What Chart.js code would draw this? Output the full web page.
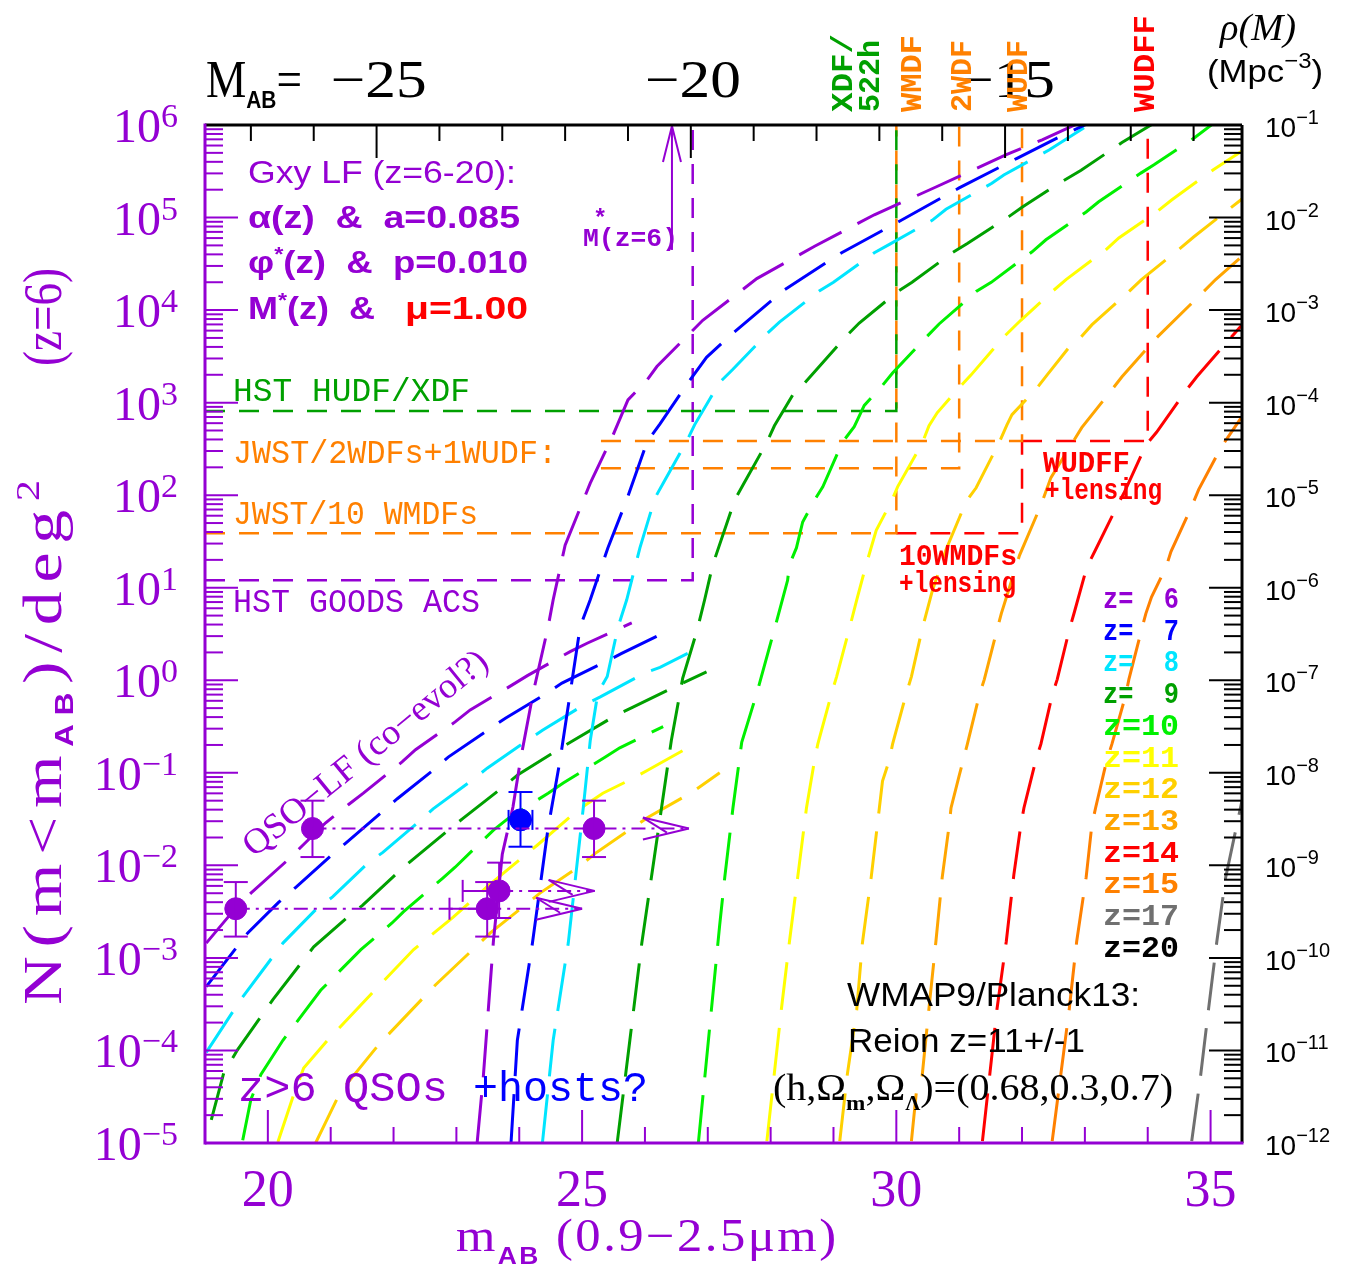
<!DOCTYPE html>
<html>
<head>
<meta charset="utf-8">
<title>Galaxy and QSO counts z=6-20</title>
<script src="https://cdn.jsdelivr.net/npm/chart.js@4.4.1/dist/chart.umd.min.js"></script>
<style>
  html, body { margin: 0; padding: 0; background: #fff; }
</style>
</head>
<body>
<canvas id="lf" width="1353" height="1272"></canvas>
<script>
// ---- galaxy LF curves, [m_AB, log10 N(<m) per deg^2] ----
const gxy6 = [[23.33,-5.0],[23.43,-4.27],[23.59,-2.81],[23.73,-1.88],[23.90,-1.37],[24.02,-0.86],[24.22,-0.14],[24.46,0.58],[24.54,0.87],[24.73,1.46],[25.13,2.13],[25.48,2.63],[25.73,3.03],[26.03,3.24],[26.19,3.39],[26.92,3.89],[27.78,4.34],[28.70,4.69],[29.65,5.03],[30.63,5.33],[31.75,5.68],[32.32,5.84],[32.90,6.02]];
const gxy7 = [[23.87,-4.99],[23.97,-3.89],[24.21,-2.84],[24.46,-1.59],[24.65,-0.86],[24.81,-0.14],[24.97,0.58],[25.13,0.87],[25.41,1.43],[25.71,1.95],[26.0,2.51],[26.08,2.62],[26.24,2.77],[26.68,3.21],[26.98,3.49],[27.40,3.75],[28.22,4.22],[29.13,4.62],[30.05,4.96],[31.0,5.32],[31.92,5.64],[32.59,5.87],[33.06,6.02]];
const gxy8 = [[24.37,-4.99],[24.54,-3.89],[24.78,-2.84],[25.02,-1.37],[25.13,-0.65],[25.25,-0.14],[25.40,0.04],[25.57,0.57],[25.71,0.87],[25.92,1.43],[26.16,1.97],[26.29,2.13],[26.67,2.59],[26.79,2.76],[27.19,3.22],[27.40,3.36],[27.95,3.75],[28.14,3.87],[28.78,4.21],[29.0,4.30],[29.65,4.62],[29.89,4.71],[30.57,4.97],[30.79,5.09],[31.52,5.37],[31.71,5.46],[32.43,5.73],[33.10,6.02]];
const gxy9 = [[25.56,-4.99],[25.76,-3.89],[25.95,-2.84],[26.15,-1.91],[26.42,-0.65],[26.60,0.02],[26.83,0.54],[26.95,0.87],[27.08,1.25],[27.43,1.95],[27.56,2.11],[27.94,2.57],[28.06,2.75],[28.35,3.08],[28.51,3.19],[29.22,3.73],[29.41,3.86],[30.02,4.20],[30.25,4.30],[30.89,4.62],[31.13,4.72],[31.79,5.01],[32.0,5.11],[32.59,5.37],[32.94,5.51],[33.59,5.81],[34.10,6.02]];
const gxy10 = [[26.85,-5.0],[27.19,-2.64],[27.27,-2.13],[27.40,-1.38],[27.54,-0.67],[27.78,-0.14],[28.06,0.55],[28.27,1.08],[28.30,1.25],[28.41,1.43],[28.51,1.71],[28.70,1.95],[28.83,2.09],[29.14,2.57],[29.33,2.74],[29.49,2.97],[29.76,3.17],[29.94,3.32],[30.48,3.71],[30.68,3.85],[31.27,4.20],[31.51,4.30],[32.16,4.63],[32.38,4.76],[33.02,5.06],[33.22,5.17],[33.89,5.48],[34.10,5.57],[34.76,5.87],[35.05,6.02]];
const gxy11 = [[27.94,-4.98],[28.06,-4.24],[28.17,-3.56],[28.30,-2.82],[28.43,-2.13],[28.57,-1.38],[28.70,-0.86],[28.75,-0.69],[28.97,-0.14],[29.05,0.04],[29.25,0.55],[29.37,0.87],[29.52,1.25],[29.68,1.62],[29.92,1.93],[30.02,2.09],[30.41,2.56],[30.52,2.75],[30.65,2.89],[30.97,3.14],[31.19,3.30],[31.71,3.71],[31.98,3.89],[32.48,4.20],[32.70,4.33],[33.33,4.65],[33.54,4.78],[34.14,5.06],[34.38,5.19],[35.05,5.52],[35.5,5.72]];
const gxy12 = [[29.10,-4.98],[29.22,-4.26],[29.37,-3.56],[29.46,-2.84],[29.60,-2.13],[29.73,-1.38],[29.78,-1.09],[29.89,-0.86],[29.94,-0.69],[30.16,-0.14],[30.24,0.04],[30.41,0.55],[30.57,0.96],[30.79,1.41],[31.11,1.93],[31.27,2.08],[31.63,2.56],[31.76,2.76],[31.84,2.87],[32.24,3.16],[32.40,3.30],[32.75,3.60],[32.94,3.71],[33.11,3.84],[33.70,4.20],[33.90,4.33],[34.52,4.67],[34.73,4.79],[35.33,5.11],[35.5,5.2]];
const gxy13 = [[30.24,-4.98],[30.32,-4.44],[30.41,-4.28],[30.52,-3.54],[30.63,-2.82],[30.73,-2.13],[30.84,-1.57],[30.87,-1.38],[31.0,-1.03],[31.13,-0.69],[31.32,-0.16],[31.40,0.01],[31.60,0.54],[31.67,0.72],[31.96,1.35],[32.30,1.89],[32.46,2.19],[32.95,2.73],[33.43,3.14],[33.59,3.28],[33.97,3.57],[34.14,3.70],[34.89,4.20],[35.08,4.33],[35.5,4.58]];
const gxy14 = [[31.37,-4.98],[31.60,-3.56],[31.75,-2.82],[31.87,-2.10],[31.98,-1.57],[32.03,-1.38],[32.22,-0.86],[32.30,-0.69],[32.48,-0.16],[32.56,0.01],[32.75,0.54],[32.83,0.73],[33.03,1.22],[33.17,1.41],[33.54,1.92],[33.62,2.02],[33.97,2.54],[34.14,2.68],[34.62,3.14],[34.78,3.28],[35.32,3.70],[35.5,3.84]];
const gxy15 = [[32.48,-4.98],[32.75,-3.56],[32.87,-2.82],[33.02,-2.13],[33.11,-1.57],[33.17,-1.38],[33.35,-0.86],[33.43,-0.69],[33.65,-0.16],[33.70,0.01],[33.90,0.54],[33.97,0.72],[34.06,0.90],[34.29,1.22],[34.37,1.39],[34.70,1.88],[34.81,2.06],[35.17,2.52],[35.5,2.85]];
const gxy17 = [[34.70,-4.98],[34.84,-4.28],[34.97,-3.54],[35.10,-2.82],[35.24,-2.13],[35.5,-1.3]];

// ---- QSO LF curves (co-evolution guess) ----
const qso6 = [[19.02,-2.84],[19.44,-2.50],[19.73,-2.30],[20.32,-1.94],[20.92,-1.54],[21.29,-1.34],[21.52,-1.22],[22.14,-0.88],[22.35,-0.75],[22.98,-0.45],[23.22,-0.32],[23.89,-0.05],[24.13,0.05],[24.81,0.31],[25.08,0.40],[25.79,0.62]];
const qso7 = [[19.02,-3.31],[19.68,-2.73],[20.17,-2.40],[20.44,-2.24],[21.03,-1.88],[21.24,-1.76],[21.84,-1.41],[22.06,-1.28],[22.67,-0.95],[22.87,-0.83],[23.54,-0.52],[23.78,-0.41],[24.44,-0.14],[24.68,-0.03],[25.40,0.21],[25.63,0.29],[26.29,0.51]];
const qso8 = [[19.02,-4.02],[19.57,-3.45],[20.24,-2.84],[20.76,-2.48],[21.03,-2.34],[21.60,-1.97],[21.83,-1.86],[22.40,-1.53],[22.63,-1.39],[23.25,-1.08],[23.49,-0.95],[24.13,-0.65],[24.37,-0.54],[25.02,-0.27],[25.29,-0.18],[26.0,0.08],[26.24,0.14],[26.68,0.29]];
const qso9 = [[19.10,-4.75],[19.30,-4.24],[19.52,-3.99],[20.08,-3.45],[20.73,-2.88],[21.27,-2.56],[21.51,-2.43],[22.08,-2.07],[22.30,-1.94],[22.87,-1.62],[23.11,-1.49],[23.75,-1.15],[23.98,-1.02],[24.62,-0.75],[24.86,-0.65],[25.56,-0.37],[25.81,-0.29],[26.51,-0.06],[26.98,0.09]];
const qso10 = [[19.60,-4.97],[19.73,-4.53],[19.89,-4.26],[20.24,-3.89],[20.84,-3.35],[21.48,-2.91],[21.98,-2.62],[22.16,-2.50],[22.78,-2.14],[22.98,-2.02],[23.59,-1.62],[23.83,-1.49],[24.46,-1.22],[24.70,-1.11],[25.37,-0.83],[25.60,-0.73],[26.29,-0.50]];
const qso11 = [[20.16,-4.99],[20.40,-4.50],[20.57,-4.19],[20.95,-3.89],[21.63,-3.40],[22.32,-2.91],[22.95,-2.56],[23.49,-2.23],[24.06,-1.91],[24.29,-1.78],[24.94,-1.40],[25.33,-1.22],[25.81,-1.06],[26.05,-0.97],[26.76,-0.70]];
const qso12 = [[20.76,-5.0],[21.11,-4.51],[21.27,-4.35],[21.76,-3.94],[22.67,-3.29],[23.54,-2.73],[24.13,-2.41],[24.33,-2.30],[24.94,-2.02],[25.21,-1.87],[25.81,-1.59],[26.05,-1.48],[26.75,-1.21],[27.19,-1.0]];

const gxyZ = [6, 7, 8, 9, 10, 11, 12, 13, 14, 15, 17];
const gxyCurves = [gxy6, gxy7, gxy8, gxy9, gxy10, gxy11, gxy12, gxy13, gxy14, gxy15, gxy17];
const qsoZ = [6, 7, 8, 9, 10, 11, 12];
const qsoCurves = [qso6, qso7, qso8, qso9, qso10, qso11, qso12];

// legend
const legendZ = [6, 7, 8, 9, 10, 11, 12, 13, 14, 15, 17, 20];
const zColors = {6: '#9400D3', 7: '#0000FF', 8: '#00E5FF', 9: '#00A000', 10: '#00F000', 11: '#FFFF00',
                 12: '#FFD000', 13: '#FFA500', 14: '#FF0000', 15: '#FF8000', 17: '#707070', 20: '#000000'};

// ---- survey depth limits, [m_AB, log10 N] ----
const hudfPath  = [[19.0, 2.91], [30.0, 2.91], [30.0, 6.0]];
const goodsPath = [[19.0, 1.08], [26.76, 1.08], [26.76, 6.0]];
const wmdfPath  = [[19.0, 1.59], [30.0, 1.59], [30.0, 6.0]];
const wdf2Path  = [[25.3, 2.29], [31.0, 2.29], [31.0, 6.0]];
const wudfPath  = [[25.3, 2.585], [32.0, 2.585], [32.0, 6.0]];
const wmdfLens  = [[30.0, 1.59], [32.0, 1.59], [32.0, 2.585]];
const wudffLens = [[32.0, 2.585], [34.0, 2.585], [34.0, 6.0]];
const mStar6 = 26.43;            // M*(z=6) in m_AB
const mStarArrowFrom = 4.65;     // log10 N at arrow tail

// ---- z>6 QSO points ----
const qsoMag    = [19.49, 20.71, 25.19, 23.49, 23.68];
const qsoDens   = [0.0034, 0.025, 0.025, 0.0034, 0.0053];
const qsoDensHi = [0.0066, 0.050, 0.050, 0.0066, 0.0107];
const qsoDensLo = [0.0017, 0.0123, 0.0123, 0.0017, 0.0027];
const qsoMagLo  = [null, null, null, 22.89, 23.10];
const qsoLinkTo = [23.49, 26.70, null, 25.00, 25.20];
const qsoArrow  = [false, true, false, true, true];
const hostMag = [24.02], hostDens = [0.031];
const hostDensLo = [0.0159], hostDensHi = [0.062];
const hostMagLo = [23.83], hostMagHi = [24.21];

// axis tick values
const topLabels = [-25, -20, -15];
const bottomLabels = [20, 25, 30, 35];

const PURPLE = '#9400D3', ORANGE = '#FF8000', GREEN = '#00A000', RED = '#FF0000';
const SERIF = '"Liberation Serif", "DejaVu Serif", serif';
const SANS = '"Liberation Sans", Arial, sans-serif';
const MONO = '"Liberation Mono", "DejaVu Sans Mono", monospace';

function toPts(arr) { return arr.map(p => ({x: p[0], y: Math.pow(10, p[1])})); }

const datasets = [];
datasets.push({data: qsoMag.map((m, i) => ({x: m, y: qsoDens[i]})), pointRadius: 11, pointBackgroundColor: PURPLE,
               pointBorderColor: PURPLE, showLine: false});
datasets.push({data: hostMag.map((m, i) => ({x: m, y: hostDens[i]})), pointRadius: 11, pointBackgroundColor: '#0000FF',
               pointBorderColor: '#0000FF', showLine: false});
gxyCurves.forEach((c, i) => datasets.push({
  data: toPts(c), borderColor: zColors[gxyZ[i]], borderWidth: 3, borderDash: [48, 18],
  showLine: true, pointRadius: 0, tension: 0, fill: false
}));
qsoCurves.forEach((c, i) => datasets.push({
  data: toPts(c), borderColor: zColors[qsoZ[i]], borderWidth: 3, borderDash: [48, 18],
  showLine: true, pointRadius: 0, tension: 0, fill: false
}));
[[hudfPath, GREEN], [goodsPath, PURPLE], [wmdfPath, ORANGE], [wdf2Path, ORANGE], [wudfPath, ORANGE],
 [wmdfLens, RED], [wudffLens, RED]].forEach(s => datasets.push({
  data: toPts(s[0]), borderColor: s[1], borderWidth: 2.5, borderDash: [20, 14],
  showLine: true, pointRadius: 0, tension: 0, fill: false
}));

// text with sub/superscripts; segs: {t, f, c, dy}
// o.fit reaches a width by stretching; with o.spread half of it comes from letter spacing
function rich(ctx, segs, x, y, o) {
  o = o || {};
  ctx.save();
  ctx.translate(x, y);
  if (o.rot) ctx.rotate(o.rot);
  let w = 0, nch = 0;
  segs.forEach(s => { ctx.font = s.f; s.w = ctx.measureText(s.t).width; w += s.w; nch += s.t.length; });
  let k = 1, gap = 0;
  if (o.fit && o.spread) {
    k = Math.sqrt(o.fit / w);
    gap = (o.fit / k - w) / Math.max(1, nch - 1);
  } else if (o.fit) k = o.fit / w;
  const total = o.fit || w;
  ctx.scale(k, 1);
  let cx = o.align === 'center' ? -total / 2 / k : (o.align === 'right' ? -total / k : 0);
  ctx.textAlign = 'left';
  ctx.textBaseline = o.base || 'alphabetic';
  segs.forEach(s => {
    ctx.font = s.f;
    ctx.fillStyle = s.c || o.c || '#000';
    if (gap) {
      for (const ch of s.t) {
        ctx.fillText(ch, cx, s.dy || 0);
        cx += ctx.measureText(ch).width + gap;
      }
    } else {
      ctx.fillText(s.t, cx, s.dy || 0);
      cx += s.w;
    }
  });
  ctx.restore();
}

function seg(ctx, x1, y1, x2, y2) { ctx.beginPath(); ctx.moveTo(x1, y1); ctx.lineTo(x2, y2); ctx.stroke(); }
function expo(e) { return e < 0 ? '\u2212' + (-e) : String(e); }

const decor = {
  id: 'decor',
  afterDatasetsDraw(chart) {
    const ctx = chart.ctx, sx = chart.scales.x, sy = chart.scales.y;
    ctx.save();
    ctx.lineWidth = 2;
    // QSO limits and error bars
    ctx.strokeStyle = PURPLE;
    qsoMag.forEach((m, i) => {
      const x = sx.getPixelForValue(m), y = sy.getPixelForValue(qsoDens[i]);
      ctx.setLineDash([]);
      const yh = sy.getPixelForValue(qsoDensHi[i]), yl = sy.getPixelForValue(qsoDensLo[i]);
      seg(ctx, x, yh, x, yl); seg(ctx, x - 12, yh, x + 12, yh); seg(ctx, x - 12, yl, x + 12, yl);
      if (qsoMagLo[i] !== null) {
        const xl = sx.getPixelForValue(qsoMagLo[i]);
        seg(ctx, xl, y, x, y); seg(ctx, xl, y - 11, xl, y + 11);
      }
      if (qsoLinkTo[i] !== null) {
        const xe = sx.getPixelForValue(qsoLinkTo[i]);
        ctx.setLineDash([14, 6, 3, 6]);
        seg(ctx, x, y, xe, y);
        ctx.setLineDash([]);
        if (qsoArrow[i]) {
          seg(ctx, xe - 46, y - 11, xe, y); seg(ctx, xe - 46, y + 11, xe, y);
          seg(ctx, xe - 46, y - 11, xe - 22, y + 4);
        }
      }
    });
    ctx.setLineDash([]);
    ctx.strokeStyle = '#0000FF';
    hostMag.forEach((m, i) => {
      const x = sx.getPixelForValue(m), y = sy.getPixelForValue(hostDens[i]);
      const yh = sy.getPixelForValue(hostDensHi[i]), yl = sy.getPixelForValue(hostDensLo[i]);
      const xl = sx.getPixelForValue(hostMagLo[i]), xh = sx.getPixelForValue(hostMagHi[i]);
      seg(ctx, x, yh, x, yl); seg(ctx, x - 12, yh, x + 12, yh); seg(ctx, x - 12, yl, x + 12, yl);
      seg(ctx, xl, y, xh, y); seg(ctx, xl, y - 10, xl, y + 10); seg(ctx, xh, y - 10, xh, y + 10);
    });
    // M*(z=6) arrow
    ctx.strokeStyle = PURPLE;
    const xa = sx.getPixelForValue(mStar6), ya = sy.getPixelForValue(Math.pow(10, mStarArrowFrom));
    const yt = chart.chartArea.top + 1;
    seg(ctx, xa, ya, xa, yt); seg(ctx, xa - 9, yt + 36, xa, yt); seg(ctx, xa + 9, yt + 36, xa, yt);
    ctx.restore();
  },
  afterDraw(chart) {
    const ctx = chart.ctx, a = chart.chartArea;
    const sx = chart.scales.x, sy = chart.scales.y, sm = chart.scales.xM, sr = chart.scales.yRho;
    ctx.save();
    ctx.lineCap = 'butt';
    // tick marks
    ctx.lineWidth = 2;
    ctx.strokeStyle = PURPLE;
    for (let e = -5; e <= 6; e++) for (let k = 1; k <= 9; k++) {
      const v = k * Math.pow(10, e);
      if (v > 1e6 * 1.0001) continue;
      const y = sy.getPixelForValue(v);
      seg(ctx, a.left, y, a.left + (k === 1 ? 33 : 18), y);
    }
    for (let m = 19; m <= 35; m++) {
      const x = sx.getPixelForValue(m);
      seg(ctx, x, a.bottom, x, a.bottom - (m % 5 === 0 ? 33 : 16));
    }
    ctx.strokeStyle = '#000';
    for (let e = -12; e <= -1; e++) for (let k = 1; k <= 9; k++) {
      const v = k * Math.pow(10, e);
      if (v > 0.10001) continue;
      const y = sr.getPixelForValue(v);
      seg(ctx, a.right, y, a.right - (k === 1 ? 33 : 18), y);
    }
    for (let M = -27; M <= -12; M++) {
      const x = sm.getPixelForValue(M);
      seg(ctx, x, a.top, x, a.top + (M % 5 === 0 ? 33 : 16));
    }
    // frame
    ctx.lineWidth = 3;
    ctx.strokeStyle = '#000';
    seg(ctx, a.left, a.top, a.right, a.top);
    seg(ctx, a.right, a.top, a.right, a.bottom);
    ctx.strokeStyle = PURPLE;
    seg(ctx, a.left, a.top - 1.5, a.left, a.bottom + 1.5);
    seg(ctx, a.left, a.bottom, a.right + 1.5, a.bottom);

    // tick labels
    for (let e = -5; e <= 6; e++) {
      const y = sy.getPixelForValue(Math.pow(10, e));
      rich(ctx, [{t: '10', f: '48px ' + SERIF}, {t: expo(e), f: '34px ' + SERIF, dy: -15}], 178, y + 17, {align: 'right', c: PURPLE});
    }
    for (let e = -12; e <= -1; e++) {
      const y = sr.getPixelForValue(Math.pow(10, e));
      rich(ctx, [{t: '10', f: '28px ' + SANS}, {t: expo(e), f: '20px ' + SANS, dy: -13}], 1265, y + 12, {c: '#000'});
    }
    bottomLabels.forEach(m => {
      rich(ctx, [{t: String(m), f: '52px ' + SERIF}], sx.getPixelForValue(m), 1206, {align: 'center', c: PURPLE});
    });
    topLabels.forEach(M => {
      rich(ctx, [{t: '\u2212' + (-M), f: '52px ' + SERIF}], sm.getPixelForValue(M) + 2, 97, {align: 'center', c: '#000', fit: 96});
    });
    rich(ctx, [{t: 'M', f: '52px ' + SERIF}, {t: 'AB', f: 'bold 24px ' + SANS, dy: 11}, {t: '=', f: '52px ' + SERIF}], 206, 97, {c: '#000', fit: 96});
    rich(ctx, [{t: '\u03C1(M)', f: 'italic 38px ' + SERIF}], 1220, 40, {c: '#000', fit: 76});
    rich(ctx, [{t: '(Mpc', f: '32px ' + SANS}, {t: '\u22123', f: '22px ' + SANS, dy: -14}, {t: ')', f: '32px ' + SANS}], 1207, 82, {c: '#000', fit: 116});

    // axis titles
    rich(ctx, [{t: 'N(m<m', f: '54px ' + SERIF}, {t: 'AB', f: 'bold 25px ' + SANS, dy: 12},
               {t: ')/deg', f: '54px ' + SERIF}, {t: '2', f: '34px ' + SERIF, dy: -22}],
         61, 1005, {rot: -Math.PI / 2, c: PURPLE, fit: 525, spread: true});
    rich(ctx, [{t: '(z=6)', f: '54px ' + SERIF}], 61, 366, {rot: -Math.PI / 2, c: PURPLE, fit: 98});
    rich(ctx, [{t: 'm', f: '46px ' + SERIF}, {t: 'AB', f: 'bold 24px ' + SANS, dy: 13},
               {t: ' (0.9\u22122.5\u03BCm)', f: '46px ' + SERIF}], 456, 1251, {c: PURPLE, fit: 380, spread: true});

    // top rotated survey labels
    [['XDF/', 844, 78, GREEN], ['522h', 871, 72, GREEN], ['WMDF', 913, 77, ORANGE], ['2WDF', 963, 72, ORANGE],
     ['WUDF', 1019, 72, ORANGE], ['WUDFF', 1146, 97, RED]].forEach(l => {
      rich(ctx, [{t: l[0], f: 'bold 30px ' + MONO}], l[1], 112, {rot: -Math.PI / 2, base: 'middle', c: l[3], fit: l[2]});
    });

    // model annotations
    rich(ctx, [{t: 'Gxy LF (z=6-20):', f: '31px ' + SANS}], 248, 183, {c: PURPLE, fit: 268});
    rich(ctx, [{t: '\u03B1(z)  &  a=0.085', f: 'bold 31px ' + SANS}], 248, 228, {c: PURPLE, fit: 272});
    rich(ctx, [{t: '\u03C6', f: 'bold 31px ' + SANS}, {t: '*', f: 'bold 20px ' + SANS, dy: -12},
               {t: '(z)  &  p=0.010', f: 'bold 31px ' + SANS}], 248, 273, {c: PURPLE, fit: 280});
    rich(ctx, [{t: 'M', f: 'bold 31px ' + SANS}, {t: '*', f: 'bold 20px ' + SANS, dy: -12},
               {t: '(z)  &', f: 'bold 31px ' + SANS}], 248, 319, {c: PURPLE, fit: 127});
    rich(ctx, [{t: '\u03BC=1.00', f: 'bold 31px ' + SANS}], 405, 319, {c: RED, fit: 123});
    rich(ctx, [{t: 'M(z=6)', f: 'bold 26px ' + MONO}], 583, 246, {c: PURPLE, fit: 95});
    rich(ctx, [{t: '*', f: 'bold 24px ' + MONO}], 593, 226, {c: PURPLE});

    rich(ctx, [{t: 'HST HUDF/XDF', f: '33px ' + MONO}], 233, 401, {c: GREEN, fit: 237});
    rich(ctx, [{t: 'JWST/2WDFs+1WUDF:', f: '33px ' + MONO}], 233, 463, {c: ORANGE, fit: 324});
    rich(ctx, [{t: 'JWST/10 WMDFs', f: '33px ' + MONO}], 233, 524, {c: ORANGE, fit: 245});
    rich(ctx, [{t: 'HST GOODS ACS', f: '33px ' + MONO}], 233, 612, {c: PURPLE, fit: 247});

    rich(ctx, [{t: 'WUDFF', f: 'bold 29px ' + MONO}], 1043, 472, {c: RED, fit: 87});
    rich(ctx, [{t: '+lensing', f: 'bold 29px ' + MONO}], 1045, 499, {c: RED, fit: 117});
    rich(ctx, [{t: '10WMDFs', f: 'bold 29px ' + MONO}], 899, 565, {c: RED, fit: 118});
    rich(ctx, [{t: '+lensing', f: 'bold 29px ' + MONO}], 899, 592, {c: RED, fit: 117});

    // redshift legend
    legendZ.forEach((z, i) => {
      const label = z < 10 ? 'z=  ' + z : 'z=' + z;
      rich(ctx, [{t: label, f: 'bold 30px ' + MONO}], 1103, 608 + i * 31.7, {c: zColors[z], fit: 76});
    });

    rich(ctx, [{t: 'WMAP9/Planck13:', f: '34px ' + SANS}], 847, 1006, {c: '#000', fit: 293});
    rich(ctx, [{t: 'Reion z=11+/-1', f: '34px ' + SANS}], 848, 1052, {c: '#000', fit: 237});
    rich(ctx, [{t: '(h,\u03A9', f: '38px ' + SERIF}, {t: 'm', f: 'bold 22px ' + SERIF, dy: 10},
               {t: ',\u03A9', f: '38px ' + SERIF}, {t: '\u039B', f: 'bold 20px ' + SERIF, dy: 10},
               {t: ')=(0.68,0.3,0.7)', f: '38px ' + SERIF}], 773, 1100, {c: '#000', fit: 400});

    rich(ctx, [{t: 'z>6 QSOs', f: '42px ' + MONO}], 238, 1101, {c: PURPLE, fit: 210});
    rich(ctx, [{t: '+hosts?', f: '42px ' + MONO}], 473, 1101, {c: '#0000FF', fit: 175});
    rich(ctx, [{t: 'QSO\u2212LF (co\u2212evol?)', f: '36px ' + SERIF}], 254, 858, {rot: -0.684, c: PURPLE, fit: 305});
    ctx.restore();
  }
};

new Chart(document.getElementById('lf'), {
  type: 'scatter',
  data: {datasets},
  options: {
    responsive: false,
    devicePixelRatio: 1,
    animation: false,
    events: [],
    layout: {padding: {left: 205, right: 111, top: 125, bottom: 129}},
    plugins: {legend: {display: false}, tooltip: {enabled: false}},
    scales: {
      x: {type: 'linear', min: 19, max: 35.5, display: false},
      y: {type: 'logarithmic', min: 1e-5, max: 1e6, display: false},
      xM: {type: 'linear', position: 'top', min: -27.73, max: -11.23, display: false},
      yRho: {type: 'logarithmic', position: 'right', min: 1e-12, max: 1e-1, display: false}
    }
  },
  plugins: [decor]
});
</script>
</body>
</html>
